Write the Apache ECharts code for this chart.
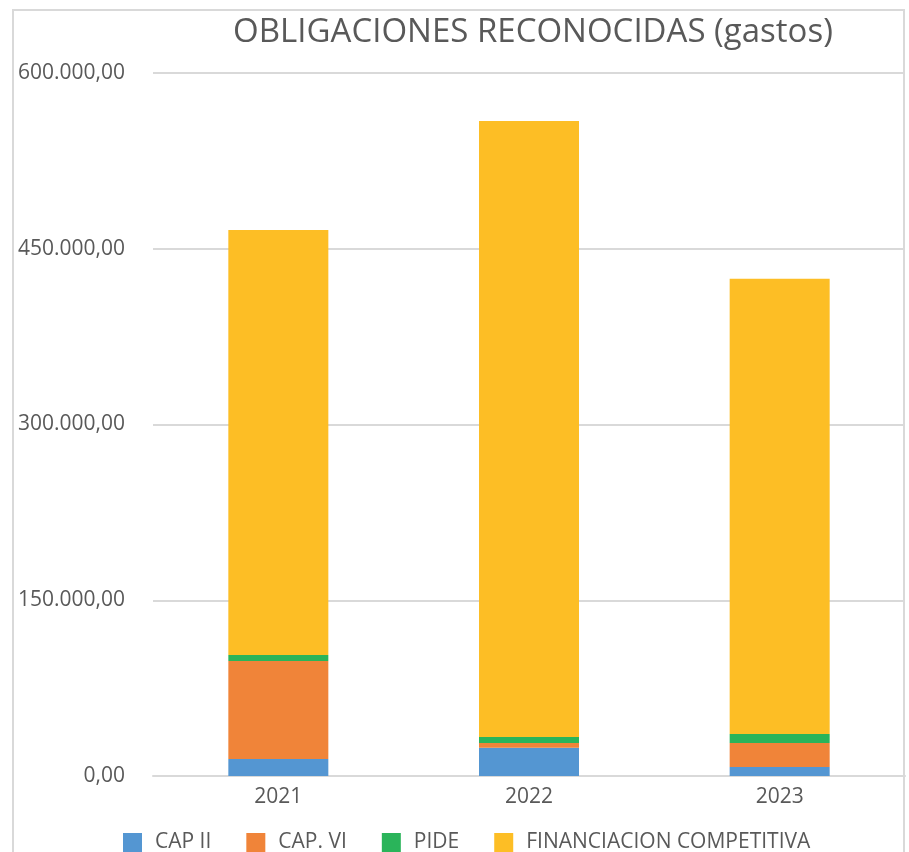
<!DOCTYPE html>
<html>
<head>
<meta charset="utf-8">
<script src="https://cdn.jsdelivr.net/npm/echarts@6/dist/echarts.min.js"></script>
<style>html,body{margin:0;padding:0;background:#fff}#c{width:909px;height:852px}</style>
</head>
<body>
<div id="c"></div>
<script>
const categories = ['2021', '2022', '2023'];
const capII = [14500, 24200, 7700];
const capVI = [83700, 4000, 20500];
const pide = [5100, 5100, 7700];
const financiacion = [362700, 525700, 388400];
const seriesNames = ['CAP II', 'CAP. VI', 'PIDE', 'FINANCIACION COMPETITIVA'];
const colors = ['#5496D2', '#F08439', '#2AB45A', '#FDBE25'];
const yMin = 0, yMax = 600000, yStep = 150000;

function fmt(v) {
  const s = Math.round(v).toString().replace(/\B(?=(\d{3})+(?!\d))/g, '.');
  return s + ',00';
}

const font = '"Open Sans", sans-serif';
const chart = echarts.init(document.getElementById('c'));
const dataSets = [capII, capVI, pide, financiacion];
chart.setOption({
  animation: false,
  backgroundColor: '#fff',
  color: colors,
  title: {
    text: 'OBLIGACIONES RECONOCIDAS (gastos)',
    left: 528, top: 11, textAlign: 'center',
    textStyle: { fontFamily: font, fontSize: 33, fontWeight: 'normal', color: '#595959' }
  },
  legend: {
    top: 827, left: 118,
    itemWidth: 19, itemHeight: 19, itemGap: 35,
    icon: 'rect',
    textStyle: { fontFamily: font, fontSize: 21, color: '#595959', padding: [0, 0, 0, 8] },
    data: seriesNames
  },
  grid: { left: 153, right: 4, top: 73, bottom: 76 },
  xAxis: {
    type: 'category', data: categories,
    axisLine: { show: true, lineStyle: { color: '#d9d9d9', width: 2 } },
    axisTick: { show: false },
    axisLabel: { fontFamily: font, fontSize: 21, color: '#595959', margin: 11 }
  },
  yAxis: {
    type: 'value', min: yMin, max: yMax, interval: yStep,
    axisLine: { show: false }, axisTick: { show: false },
    splitLine: { lineStyle: { color: '#d9d9d9', width: 2 } },
    axisLabel: { fontFamily: font, fontSize: 21, color: '#595959', margin: 28, formatter: fmt }
  },
  graphic: [{
    type: 'rect', z: -1,
    shape: { x: 13, y: 10, width: 891, height: 900 },
    style: { fill: 'none', stroke: '#d9d9d9', lineWidth: 2 }
  }],
  series: seriesNames.map((n, i) => ({
    name: n, type: 'bar', stack: 'total', barWidth: 100,
    data: dataSets[i]
  }))
});
</script>
</body>
</html>
